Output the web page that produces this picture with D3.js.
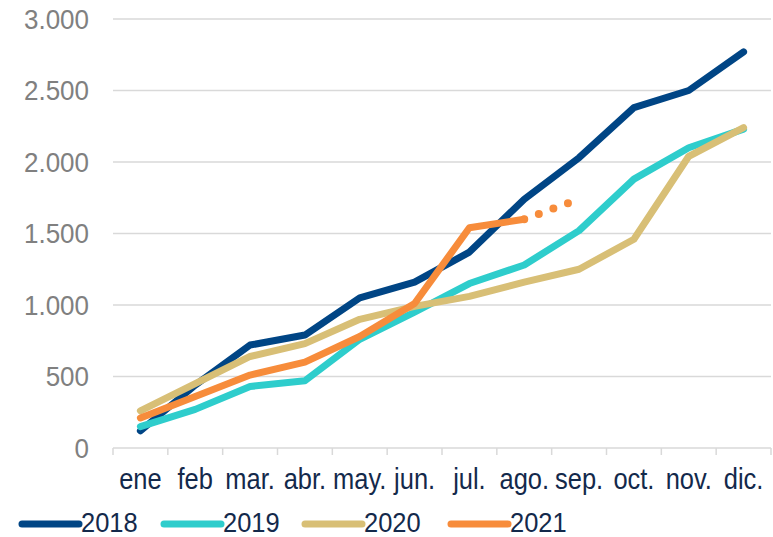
<!DOCTYPE html>
<html>
<head>
<meta charset="utf-8">
<script src="https://cdn.jsdelivr.net/npm/d3@7"></script>
<style>
  body { margin: 0; background: #fff; }
  svg { display: block; font-family: "Liberation Sans", Arial, sans-serif; }
</style>
</head>
<body>
<script>
// month categories and yearly series
const months = ["ene", "feb", "mar.", "abr.", "may.", "jun.", "jul.", "ago.", "sep.", "oct.", "nov.", "dic."];
const s2018 = [120, 440, 720, 790, 1050, 1160, 1370, 1740, 2030, 2380, 2500, 2770];
const s2019 = [150, 270, 430, 470, 760, 950, 1150, 1280, 1520, 1880, 2100, 2230];
const s2020 = [260, 450, 640, 730, 900, 990, 1060, 1160, 1250, 1460, 2040, 2240];
const s2021 = [210, 360, 510, 600, 780, 1010, 1540, 1600, null, null, null, null];
const s2021proj = [null, null, null, null, null, null, null, 1600, 1740, null, null, null];
const yTicks = [0, 500, 1000, 1500, 2000, 2500, 3000];

const width = 773, height = 537;
const margin = { top: 19, right: 2, bottom: 89, left: 113 };

const series = [
  { name: "2018", values: s2018, color: "#004585" },
  { name: "2019", values: s2019, color: "#2ECDCC" },
  { name: "2020", values: s2020, color: "#D8BF76" },
  { name: "2021", values: s2021, color: "#F78C3B" }
];

const locale = d3.formatLocale({ decimal: ",", thousands: ".", grouping: [3], currency: ["", "€"] });
const fmt = locale.format(",.0f");

const x = d3.scaleBand()
  .domain(months)
  .range([margin.left, width - margin.right]);

const y = d3.scaleLinear()
  .domain([0, 3000])
  .range([height - margin.bottom, margin.top]);

const svg = d3.select("body").append("svg")
  .attr("width", width)
  .attr("height", height);

// gridlines
svg.append("g")
  .selectAll("line")
  .data(yTicks.filter(d => d > 0))
  .join("line")
  .attr("x1", margin.left)
  .attr("x2", width - margin.right)
  .attr("y1", d => y(d))
  .attr("y2", d => y(d))
  .attr("stroke", "#d9d9d9")
  .attr("stroke-width", 1.5);

// y labels
svg.append("g")
  .selectAll("text")
  .data(yTicks)
  .join("text")
  .attr("transform", d => `translate(89,${y(d)}) scale(1,1.05)`)
  .attr("dy", "0.36em")
  .attr("text-anchor", "end")
  .attr("fill", "#808080")
  .attr("font-size", 26)
  .text(d => fmt(d));

// x axis line and category separators
svg.append("line")
  .attr("x1", margin.left)
  .attr("x2", width - margin.right)
  .attr("y1", y(0))
  .attr("y2", y(0))
  .attr("stroke", "#d9d9d9")
  .attr("stroke-width", 1.5);

const bounds = months.map(m => x(m)).concat([x(months[months.length - 1]) + x.bandwidth()]);
svg.append("g")
  .selectAll("line")
  .data(bounds)
  .join("line")
  .attr("x1", d => d)
  .attr("x2", d => d)
  .attr("y1", y(0))
  .attr("y2", y(0) + 7)
  .attr("stroke", "#d9d9d9")
  .attr("stroke-width", 1.5);

svg.append("g")
  .selectAll("text")
  .data(months)
  .join("text")
  .attr("transform", d => `translate(${x(d) + x.bandwidth() / 2},489) scale(0.98,1.1)`)
  .attr("text-anchor", "middle")
  .attr("fill", "#13294b")
  .attr("font-size", 26)
  .text(d => d);

// lines
const line = d3.line()
  .defined(d => d != null)
  .x((d, i) => x(months[i]) + x.bandwidth() / 2)
  .y(d => y(d));

svg.append("g")
  .selectAll("path")
  .data(series)
  .join("path")
  .attr("fill", "none")
  .attr("stroke", d => d.color)
  .attr("stroke-width", 7)
  .attr("stroke-linejoin", "round")
  .attr("stroke-linecap", "round")
  .attr("d", d => line(d.values));

// 2021 dotted projection
svg.append("path")
  .attr("fill", "none")
  .attr("stroke", "#F78C3B")
  .attr("stroke-width", 8)
  .attr("stroke-linecap", "round")
  .attr("stroke-dasharray", "0,15.5")
  .attr("d", line(s2021proj));

// legend
const legendX = [22, 164, 305, 451];
const legend = svg.append("g")
  .selectAll("g")
  .data(series)
  .join("g")
  .attr("transform", (d, i) => `translate(${legendX[i]},524)`);

legend.append("line")
  .attr("x1", 0)
  .attr("x2", 57)
  .attr("stroke", d => d.color)
  .attr("stroke-width", 7)
  .attr("stroke-linecap", "round");

legend.append("text")
  .attr("transform", "translate(59,8) scale(0.98,1.06)")
  .attr("fill", "#13294b")
  .attr("font-size", 26)
  .text(d => d.name);
</script>
</body>
</html>
